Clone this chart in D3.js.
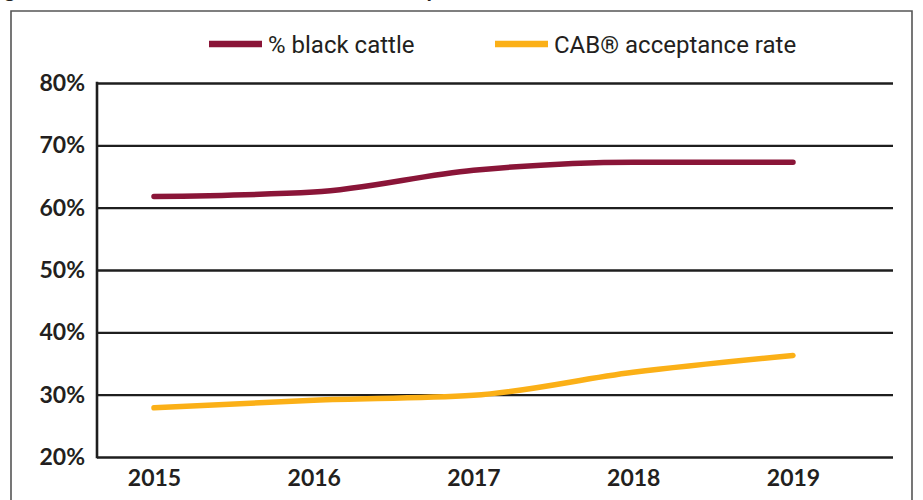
<!DOCTYPE html>
<html>
<head>
<meta charset="utf-8">
<script src="https://cdn.jsdelivr.net/npm/d3@7"></script>
<style>
  html, body { margin: 0; padding: 0; background: #fff; }
  svg { display: block; }
</style>
</head>
<body>
<svg id="chart" width="923" height="500"></svg>
<script>
// ---- data ----
const years = ["2015", "2016", "2017", "2018", "2019"];
const blackCattle = [61.8, 62.5, 66.0, 67.3, 67.3];
const cabRate = [27.9, 29.1, 29.9, 33.6, 36.3];
const yTicks = [20, 30, 40, 50, 60, 70, 80];
const seriesNames = ["% black cattle", "CAB® acceptance rate"];
const titleText = "Figure 1. Percent black cattle and CAB® acceptance rate";

// ---- layout ----
const W = 923, H = 500;
const plot = { left: 97, right: 893, top: 83, bottom: 457 };
const colors = ["#8a1538", "#fbb017"];
const svg = d3.select("#chart");

// frame
svg.append("path")
  .attr("d", `M11,${H} L11,11 L912,11 L912,${H}`)
  .attr("fill", "none").attr("stroke", "#555").attr("stroke-width", 1.6);

// title, cut off at the top as in the reference
svg.append("text")
  .attr("x", -14).attr("y", -3)
  .attr("font-family", "Lato, sans-serif").attr("font-weight", 700)
  .attr("font-size", 22).attr("fill", "#231f20")
  .text(titleText);

const x = d3.scalePoint().domain(years).range([plot.left + 57, plot.right - 100]);
const y = d3.scaleLinear().domain([20, 80]).range([plot.bottom, plot.top]);

// y axis with gridlines
const yAxis = d3.axisLeft(y).tickValues(yTicks)
  .tickFormat(d => d + "%")
  .tickSize(-(plot.right - plot.left)).tickPadding(12);
const gy = svg.append("g").attr("transform", `translate(${plot.left},0)`).call(yAxis);
gy.select(".domain").remove();
gy.selectAll(".tick line").attr("stroke", "#1e1e1e").attr("stroke-width", 2.4);
gy.selectAll(".tick text")
  .attr("font-family", "Lato, sans-serif").attr("font-weight", 700)
  .attr("font-size", 23).attr("fill", "#231f20");

// vertical axis line
svg.append("line")
  .attr("x1", plot.left).attr("x2", plot.left)
  .attr("y1", y(80) - 1.2).attr("y2", y(20) + 1.2)
  .attr("stroke", "#1e1e1e").attr("stroke-width", 2.6);

// x axis labels
const xAxis = d3.axisBottom(x).tickSize(0).tickPadding(13);
const gx = svg.append("g").attr("transform", `translate(0,${plot.bottom})`).call(xAxis);
gx.select(".domain").remove();
gx.selectAll(".tick text")
  .attr("font-family", "Lato, sans-serif").attr("font-weight", 700)
  .attr("font-size", 23).attr("fill", "#231f20");

// lines
const line = d3.line()
  .x((d, i) => x(years[i]))
  .y(d => y(d))
  .curve(d3.curveMonotoneX);

[blackCattle, cabRate].forEach((vals, k) => {
  svg.append("path")
    .datum(vals)
    .attr("d", line)
    .attr("fill", "none")
    .attr("stroke", colors[k])
    .attr("stroke-width", 5.5)
    .attr("stroke-linecap", "round")
    .attr("stroke-linejoin", "round");
});

// legend
const legendPos = [{ x: 209 }, { x: 495 }];
seriesNames.forEach((name, k) => {
  const g = svg.append("g").attr("transform", `translate(${legendPos[k].x},44)`);
  g.append("line").attr("x1", 0).attr("x2", 53).attr("y1", 0).attr("y2", 0)
    .attr("stroke", colors[k]).attr("stroke-width", 6.5);
  g.append("text").attr("x", 59).attr("y", 8.5)
    .attr("font-family", "Roboto, sans-serif").attr("font-size", 24)
    .attr("fill", "#231f20").text(name);
});
</script>
</body>
</html>
